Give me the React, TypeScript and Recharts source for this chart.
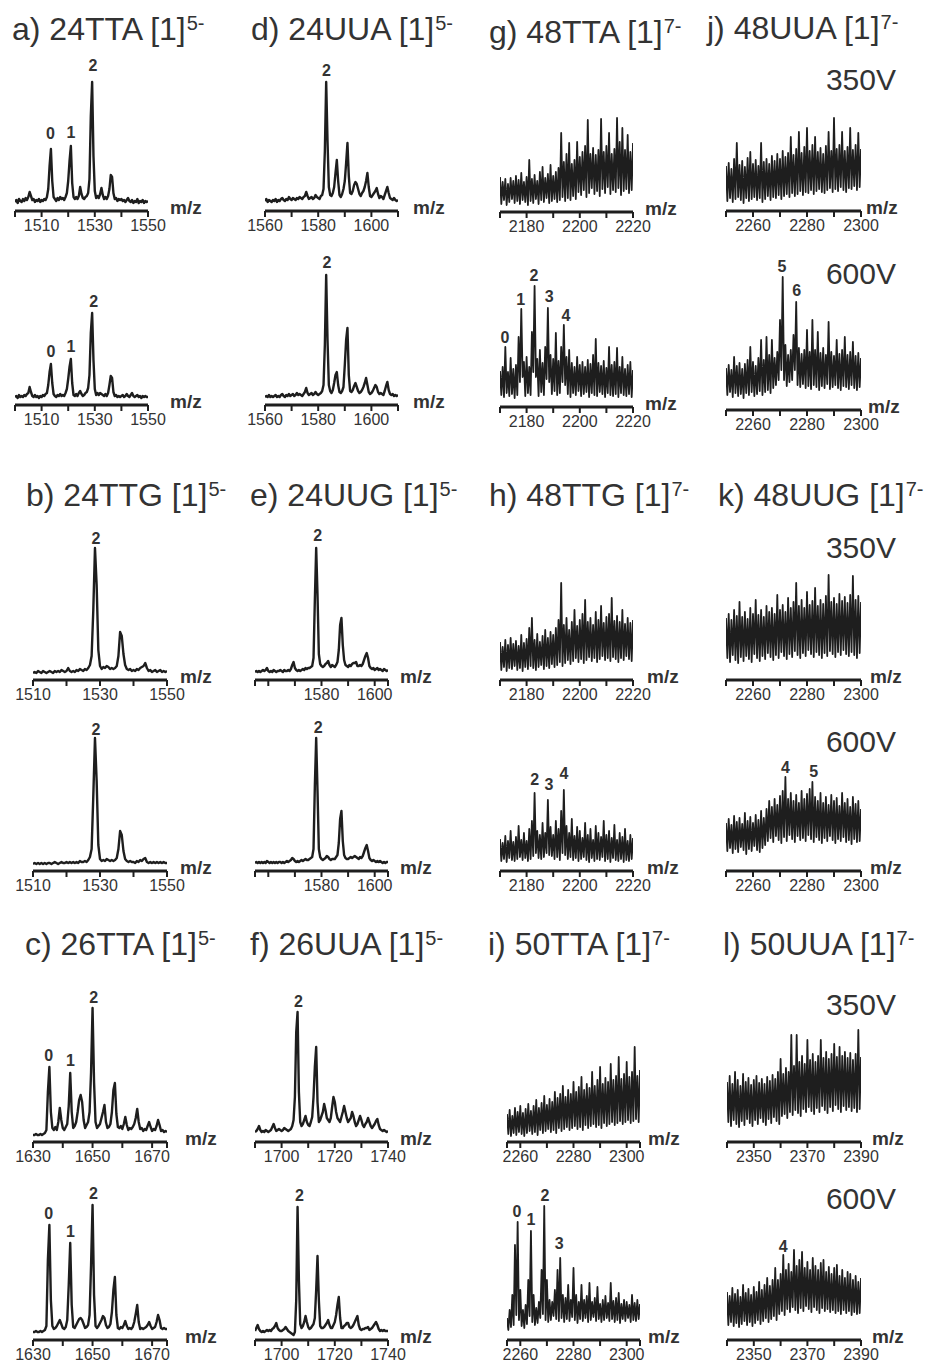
import React from "react";
import { LineChart, Line, XAxis, YAxis, ReferenceDot } from "recharts";

const FONT = '"Liberation Sans", Arial, Helvetica, sans-serif';
const INK = "#1e1e1e";
const TEXT = "#333";

// ---- clean spectra: intensity every 0.5 m/z (px above the axis line) ----
const a350 = [
  9, 11, 8, 12, 10, 9, 12, 10, 13, 11,
  14, 19, 15, 11, 12, 9, 11, 10, 12, 9,
  11, 10, 12, 11, 14, 22, 45, 62, 30, 14,
  12, 10, 13, 11, 14, 12, 13, 11, 14, 18,
  30, 50, 65, 28, 14, 12, 14, 12, 15, 24,
  17, 13, 12, 14, 15, 18, 32, 95, 129, 55,
  20, 13, 15, 13, 17, 23, 16, 12, 14, 12,
  15, 22, 36, 34, 18, 12, 13, 10, 12, 11,
  12, 10, 11, 9, 11, 13, 10, 9, 11, 8,
  10, 9, 12, 8, 10, 9, 11, 8, 10, 9,
  10,
];
const a600 = [
  8, 9, 7, 10, 8, 9, 8, 10, 9, 11,
  12, 18, 13, 9, 8, 10, 8, 9, 7, 9,
  8, 10, 9, 11, 12, 20, 33, 41, 22, 11,
  9, 8, 10, 9, 11, 9, 10, 9, 12, 16,
  26, 38, 46, 22, 10, 9, 11, 9, 12, 14,
  11, 9, 10, 12, 13, 17, 30, 72, 92, 45,
  16, 10, 12, 10, 12, 11, 10, 9, 11, 9,
  12, 20, 29, 27, 13, 9, 10, 8, 9, 8,
  9, 10, 8, 9, 11, 9, 8, 10, 12, 9,
  8, 9, 10, 8, 9, 7, 9, 8, 9, 8,
  8,
];
const b350 = [
  7, 8, 7, 9, 8, 7, 9, 8, 7, 8,
  9, 8, 7, 9, 8, 9, 8, 10, 9, 8,
  9, 12, 9, 8, 9, 8, 10, 9, 11, 10,
  9, 11, 10, 12, 15, 24, 70, 132, 95, 30,
  14, 11, 13, 12, 14, 13, 11, 12, 11, 12,
  14, 24, 48, 44, 26, 15, 11, 10, 11, 9,
  10, 9, 11, 10, 12, 13, 14, 17, 12, 9,
  10, 8, 9, 10, 8, 9, 10, 8, 9, 8,
  9,
];
const b600 = [
  7, 8, 7, 8, 7, 8, 7, 8, 7, 8,
  8, 7, 8, 9, 8, 7, 8, 9, 8, 8,
  9, 8, 9, 8, 9, 8, 9, 8, 10, 9,
  9, 10, 9, 11, 14, 22, 75, 133, 90, 26,
  12, 10, 11, 10, 12, 11, 10, 11, 10, 11,
  13, 22, 40, 36, 20, 12, 10, 9, 10, 9,
  9, 8, 10, 9, 11, 10, 12, 13, 9, 8,
  9, 8, 9, 8, 9, 8, 9, 8, 9, 8,
  8,
];
const c350 = [
  7, 7, 8, 7, 7, 8, 7, 8, 9, 12,
  50, 75, 30, 14, 12, 15, 12, 20, 34, 22,
  14, 12, 15, 18, 36, 69, 30, 14, 16, 20,
  30, 42, 47, 40, 22, 14, 17, 20, 30, 70,
  134, 60, 20, 14, 16, 18, 24, 30, 37, 20,
  14, 15, 18, 30, 52, 59, 28, 15, 14, 16,
  13, 18, 25, 17, 12, 14, 13, 15, 18, 24,
  33, 20, 13, 14, 11, 13, 12, 16, 20, 15,
  11, 13, 12, 16, 22, 17, 11, 12, 10, 11,
  10,
];
const c600 = [
  8, 8, 9, 8, 8, 9, 8, 9, 10, 14,
  80, 115, 40, 14, 11, 12, 14, 17, 20, 16,
  12, 11, 13, 20, 55, 97, 35, 13, 12, 15,
  18, 21, 22, 20, 16, 12, 13, 15, 25, 75,
  135, 45, 14, 12, 14, 17, 20, 24, 22, 15,
  12, 13, 16, 28, 50, 63, 25, 12, 11, 13,
  12, 15, 19, 14, 11, 12, 11, 13, 18, 26,
  35, 18, 11, 12, 11, 12, 13, 15, 18, 14,
  11, 12, 13, 18, 25, 20, 12, 11, 12, 11,
  11,
];
const d350 = [
  10, 12, 9, 11, 10, 9, 11, 10, 12, 9,
  11, 10, 12, 13, 11, 10, 12, 11, 14, 12,
  11, 13, 12, 11, 13, 12, 14, 13, 12, 14,
  15, 19, 15, 12, 13, 14, 12, 13, 16, 14,
  13, 12, 15, 16, 22, 60, 129, 70, 24, 16,
  15, 18, 24, 38, 51, 30, 16, 14, 17, 22,
  30, 48, 68, 35, 18, 17, 20, 26, 29, 27,
  22, 17, 15, 18, 20, 24, 30, 38, 24, 15,
  14, 16, 18, 20, 23, 17, 13, 15, 14, 12,
  16, 20, 24, 18, 13, 12, 11, 13, 11, 10,
  11,
];
const d600 = [
  8, 9, 8, 10, 8, 9, 8, 9, 10, 8,
  9, 8, 10, 11, 9, 8, 10, 9, 11, 9,
  10, 11, 9, 10, 12, 10, 11, 10, 9, 11,
  13, 17, 12, 10, 11, 12, 10, 11, 13, 11,
  10, 11, 12, 14, 20, 60, 130, 65, 20, 14,
  12, 15, 22, 30, 33, 20, 13, 12, 14, 18,
  40, 65, 77, 30, 14, 13, 15, 19, 22, 18,
  14, 12, 13, 15, 18, 22, 27, 20, 13, 11,
  12, 14, 17, 20, 18, 13, 11, 12, 11, 10,
  14, 19, 23, 15, 11, 10, 11, 9, 10, 9,
  10,
];
const e350 = [
  8, 9, 8, 9, 8, 9, 10, 9, 10, 12,
  9, 8, 9, 8, 10, 9, 8, 9, 9, 10,
  9, 8, 10, 9, 9, 10, 9, 11, 15, 18,
  12, 10, 9, 10, 9, 10, 11, 10, 12, 11,
  12, 12, 13, 14, 22, 80, 132, 85, 26, 16,
  14, 13, 14, 16, 17, 19, 15, 13, 15, 14,
  13, 15, 18, 30, 55, 62, 35, 20, 15, 14,
  13, 15, 14, 16, 17, 17, 18, 14, 14, 15,
  14, 16, 20, 24, 27, 22, 14, 12, 11, 12,
  10, 11, 12, 10, 11, 10, 9, 11, 10, 9,
  10,
];
const e600 = [
  8, 9, 8, 9, 8, 9, 8, 9, 8, 10,
  9, 8, 9, 8, 9, 8, 9, 8, 9, 9,
  8, 9, 8, 9, 10, 9, 10, 11, 13, 12,
  10, 9, 10, 9, 10, 11, 10, 11, 12, 11,
  11, 12, 13, 14, 22, 85, 133, 80, 22, 14,
  12, 11, 12, 13, 15, 14, 12, 11, 12, 12,
  12, 14, 16, 28, 52, 60, 30, 16, 13, 12,
  12, 13, 14, 13, 14, 15, 14, 13, 12, 14,
  13, 15, 19, 23, 26, 20, 13, 11, 10, 11,
  10, 9, 10, 9, 10, 9, 8, 9, 8, 9,
  9,
];
const f350 = [
  10, 11, 13, 16, 12, 10, 11, 10, 12, 11,
  10, 11, 12, 15, 18, 14, 11, 12, 13, 12,
  11, 12, 14, 13, 12, 11, 12, 13, 16, 22,
  45, 110, 130, 50, 20, 16, 18, 22, 26, 20,
  17, 16, 20, 25, 45, 75, 95, 40, 20, 22,
  26, 30, 38, 32, 24, 22, 20, 24, 35, 45,
  40, 30, 24, 22, 20, 25, 30, 36, 30, 24,
  20, 22, 24, 30, 26, 20, 16, 18, 22, 26,
  22, 17, 15, 18, 20, 24, 20, 16, 14, 16,
  18, 21, 23, 17, 13, 12, 11, 12, 11, 10,
  11,
];
const f600 = [
  9, 12, 15, 11, 9, 8, 9, 8, 9, 10,
  9, 10, 9, 11, 12, 14, 17, 12, 10, 9,
  9, 10, 11, 13, 11, 9, 8, 7, 6, 5,
  8, 40, 133, 60, 16, 12, 14, 18, 24, 18,
  13, 11, 12, 14, 16, 22, 50, 84, 40, 14,
  12, 12, 13, 15, 17, 20, 15, 12, 12, 15,
  18, 25, 35, 43, 22, 12, 12, 14, 15, 17,
  17, 13, 12, 13, 15, 18, 21, 24, 15, 11,
  10, 11, 11, 12, 12, 13, 10, 11, 12, 14,
  16, 18, 15, 11, 9, 10, 9, 10, 9, 9,
  9,
];

// ---- noisy spectra: tops at whole m/z, bottoms at half m/z ----
const g350Hi = [
  35, 30, 33, 28, 34, 31, 36, 32, 39, 30,
  35, 52, 33, 37, 31, 40, 45, 34, 38, 47,
  36, 40, 44, 79, 50, 58, 69, 48, 52, 70,
  55, 60, 66, 92, 58, 64, 57, 62, 93, 60,
  66, 79, 58, 63, 94, 70, 84, 62, 77, 60,
  69,
];
const g350Lo = [
  8, 12, 7, 10, 13, 9, 11, 8, 12, 10,
  7, 11, 9, 13, 8, 12, 10, 14, 9, 11,
  13, 10, 12, 15, 11, 14, 12, 16, 13, 20,
  17, 22, 15, 19, 24, 18, 21, 16, 23, 19,
  25, 18, 22, 20, 24, 17, 21, 23, 19, 22,
];
const g600Hi = [
  36, 40, 60, 35, 49, 38, 42, 70, 98, 45,
  50, 40, 75, 121, 48, 57, 44, 60, 99, 52,
  48, 74, 46, 60, 82, 50, 57, 44, 40, 50,
  42, 45, 40, 47, 43, 52, 68, 44, 41, 46,
  39, 60, 42, 45, 59, 40, 50, 38, 42, 45,
  37,
];
const g600Lo = [
  12, 10, 14, 11, 13, 9, 12, 25, 30, 11,
  14, 12, 35, 30, 11, 15, 12, 28, 25, 13,
  16, 12, 14, 25, 22, 13, 10, 14, 12, 16,
  11, 13, 15, 10, 14, 12, 11, 15, 13, 10,
  14, 12, 11, 13, 10, 14, 12, 11, 13, 10,
];
const h350Hi = [
  38, 33, 40, 35, 42, 36, 39, 34, 45, 37,
  41, 52, 62, 40, 46, 38, 44, 50, 42, 48,
  45, 52, 60, 97, 55, 62, 50, 58, 70, 54,
  60, 66, 80, 58, 62, 55, 68, 60, 74, 57,
  63, 66, 82, 59, 64, 58, 70, 56, 62, 57,
  60,
];
const h350Lo = [
  10, 13, 9, 12, 11, 14, 10, 12, 9, 13,
  11, 14, 12, 10, 13, 15, 11, 14, 12, 16,
  13, 15, 18, 14, 17, 20, 16, 19, 22, 18,
  21, 17, 20, 23, 19, 22, 18, 21, 24, 20,
  22, 19, 23, 21, 18, 22, 20, 24, 21, 19,
];
const h600Hi = [
  32, 28, 35, 30, 40, 29, 34, 45, 31, 38,
  30, 42, 50, 78, 40, 36, 48, 38, 71, 44,
  36, 50, 42, 60, 81, 45, 38, 52, 35, 44,
  40, 33, 48, 36, 42, 31, 45, 38, 34, 50,
  36, 40, 33, 46, 31, 38, 34, 42, 30, 36,
  33,
];
const h600Lo = [
  10, 12, 9, 13, 11, 10, 12, 14, 11, 13,
  10, 12, 15, 18, 13, 12, 14, 18, 16, 15,
  12, 14, 11, 18, 16, 12, 14, 11, 13, 10,
  12, 14, 11, 9, 13, 10, 12, 11, 14, 10,
  12, 9, 13, 11, 10, 12, 9, 11, 10, 12,
];
const i350Hi = [
  28, 32, 26, 34, 30, 36, 29, 33, 38, 31,
  36, 42, 34, 39, 46, 37, 43, 40, 50, 44,
  48, 56, 45, 52, 48, 60, 50, 55, 65, 52,
  58, 54, 70, 56, 62, 75, 58, 64, 60, 78,
  62, 66, 85, 63, 68, 80, 65, 70, 95, 66,
  72,
];
const i350Lo = [
  8, 6, 9, 7, 10, 8, 6, 9, 11, 8,
  10, 7, 12, 9, 11, 13, 10, 12, 9, 14,
  11, 13, 15, 12, 14, 16, 13, 15, 12, 17,
  14, 16, 18, 15, 17, 14, 19, 16, 18, 20,
  17, 19, 21, 18, 20, 22, 19, 21, 23, 20,
];
const i600Hi = [
  22, 30, 45, 95, 118, 50, 30, 35, 60, 109,
  45, 32, 38, 70, 134, 60, 40, 38, 50, 70,
  82, 45, 42, 55, 40, 72, 45, 38, 55, 40,
  44, 57, 38, 42, 53, 36, 40, 44, 37, 57,
  39, 42, 47, 36, 40, 38, 35, 45, 37, 40,
  36,
];
const i600Lo = [
  10, 13, 15, 25, 20, 14, 12, 16, 24, 18,
  15, 17, 22, 26, 20, 18, 20, 24, 21, 19,
  22, 18, 21, 19, 23, 20, 17, 21, 19, 22,
  18, 20, 23, 19, 21, 18, 20, 22, 19, 21,
  18, 20, 17, 21, 19, 22, 18, 20, 19, 21,
];
const j350Hi = [
  45, 48, 42, 52, 68, 46, 50, 44, 53, 59,
  47, 51, 45, 68, 49, 52, 47, 55, 50, 57,
  52, 60, 54, 58, 74, 56, 62, 79, 58, 64,
  83, 60, 66, 74, 59, 63, 57, 65, 79, 60,
  93, 62, 66, 79, 60, 64, 83, 61, 66, 78,
  62,
];
const j350Lo = [
  10, 13, 9, 12, 14, 11, 8, 13, 10, 12,
  14, 11, 13, 9, 12, 15, 11, 14, 13, 16,
  12, 15, 17, 14, 18, 15, 17, 20, 16, 19,
  18, 21, 17, 20, 22, 19, 18, 21, 23, 19,
  22, 20, 24, 21, 19, 23, 22, 25, 21, 24,
];
const j600Hi = [
  42, 45, 40, 53, 44, 47, 41, 46, 50, 63,
  48, 44, 52, 70, 50, 73, 55, 70, 52, 58,
  90, 133, 65, 55, 60, 75, 108, 62, 56, 60,
  80, 58, 90, 60, 78, 57, 62, 55, 88, 58,
  54, 70, 56, 60, 73, 55, 58, 68, 54, 57,
  52,
];
const j600Lo = [
  15, 18, 13, 17, 14, 16, 12, 17, 15, 18,
  14, 16, 19, 15, 18, 20, 17, 22, 25, 30,
  40, 30, 24, 28, 30, 40, 25, 23, 26, 22,
  24, 21, 25, 23, 20, 24, 22, 26, 21, 23,
  25, 22, 20, 24, 23, 21, 25, 22, 20, 23,
];
const k350Hi = [
  62, 66, 60, 70, 64, 78, 63, 68, 61, 72,
  66, 80, 65, 70, 63, 74, 68, 72, 66, 85,
  70, 75, 68, 82, 72, 78, 97, 74, 80, 72,
  88, 75, 79, 92, 74, 80, 76, 84, 105, 78,
  82, 76, 86, 79, 83, 77, 85, 104, 80, 84,
  78,
];
const k350Lo = [
  22, 18, 25, 20, 17, 23, 19, 24, 21, 18,
  26, 22, 19, 24, 21, 27, 23, 20, 25, 22,
  28, 24, 21, 26, 23, 29, 25, 22, 27, 24,
  30, 26, 23, 28, 25, 22, 27, 24, 29, 26,
  23, 28, 25, 30, 26, 24, 28, 25, 22, 27,
];
const k600Hi = [
  48, 52, 46, 55, 49, 53, 47, 58, 50, 54,
  48, 56, 51, 60, 53, 62, 70, 64, 72, 66,
  75, 80, 94, 72, 78, 70, 76, 68, 80, 72,
  77, 82, 89, 74, 70, 78, 68, 74, 66, 76,
  70, 73, 65, 78, 68, 72, 64, 74, 67, 70,
  62,
];
const k600Lo = [
  20, 23, 18, 22, 19, 24, 21, 17, 22, 20,
  25, 21, 19, 23, 26, 30, 33, 29, 35, 31,
  28, 34, 30, 36, 32, 29, 35, 31, 33, 30,
  36, 32, 29, 34, 31, 28, 33, 30, 35, 31,
  28, 32, 30, 34, 29, 31, 27, 32, 29, 30,
];
const l350Hi = [
  60, 66, 58, 70, 62, 56, 68, 60, 64, 57,
  62, 66, 59, 63, 58, 65, 61, 67, 63, 70,
  83, 68, 74, 70, 107, 76, 107, 80, 86, 78,
  102, 82, 88, 80, 86, 102, 84, 90, 83, 88,
  98, 85, 95, 86, 90, 84, 89, 82, 88, 112,
  85,
];
const l350Lo = [
  20, 16, 22, 18, 15, 21, 17, 23, 19, 16,
  22, 18, 24, 20, 17, 23, 19, 25, 21, 18,
  26, 28, 24, 30, 27, 32, 29, 26, 33, 30,
  35, 31, 28, 34, 30, 36, 32, 29, 35, 31,
  37, 33, 30, 36, 32, 35, 31, 34, 30, 33,
];
const l600Hi = [
  48, 44, 52, 46, 50, 43, 55, 47, 51, 45,
  53, 48, 58, 50, 55, 62, 54, 60, 72, 60,
  66, 85, 70, 76, 68, 90, 74, 80, 88, 72,
  78, 70, 82, 74, 70, 77, 80, 68, 73, 66,
  72, 75, 64, 70, 62, 68, 66, 60, 64, 58,
  62,
];
const l600Lo = [
  15, 18, 14, 17, 13, 16, 19, 15, 18, 14,
  17, 20, 16, 19, 22, 18, 21, 24, 20, 26,
  29, 25, 31, 28, 33, 30, 27, 32, 29, 34,
  31, 28, 33, 30, 27, 32, 29, 31, 28, 30,
  27, 29, 26, 30, 27, 29, 25, 28, 26, 27,
];

// ---- axes ----
const ticksA = [1500, 1510, 1520, 1530, 1540, 1550];
const ticksB = [1510, 1520, 1530, 1540, 1550];
const ticksC = [1630, 1640, 1650, 1660, 1670, 1675];
const ticksD = [1560, 1570, 1580, 1590, 1600, 1610];
const ticksE = [1555, 1560, 1570, 1580, 1590, 1600, 1605];
const ticksF = [1690, 1700, 1710, 1720, 1730, 1740];
const ticksG = [2170, 2180, 2190, 2200, 2210, 2220];
const ticksI = [2255, 2260, 2270, 2280, 2290, 2300, 2305];
const ticksJ = [2250, 2260, 2270, 2280, 2290, 2300];
const ticksL = [2340, 2350, 2360, 2370, 2380, 2390];

const titles = [
  { x: 12, y: 30, text: "a) 24TTA [1]", sup: "5-" },
  { x: 251, y: 30, text: "d) 24UUA [1]", sup: "5-" },
  { x: 489, y: 33, text: "g) 48TTA [1]", sup: "7-" },
  { x: 707, y: 29, text: "j) 48UUA [1]", sup: "7-" },
  { x: 26, y: 496, text: "b) 24TTG [1]", sup: "5-" },
  { x: 250, y: 496, text: "e) 24UUG [1]", sup: "5-" },
  { x: 489, y: 496, text: "h) 48TTG [1]", sup: "7-" },
  { x: 718, y: 496, text: "k) 48UUG [1]", sup: "7-" },
  { x: 25, y: 945, text: "c) 26TTA [1]", sup: "5-" },
  { x: 250, y: 945, text: "f) 26UUA [1]", sup: "5-" },
  { x: 488, y: 945, text: "i) 50TTA [1]", sup: "7-" },
  { x: 723, y: 945, text: "l) 50UUA [1]", sup: "7-" },
];
const voltages = [
  { y: 80, text: "350V" },
  { y: 274, text: "600V" },
  { y: 548, text: "350V" },
  { y: 742, text: "600V" },
  { y: 1005, text: "350V" },
  { y: 1199, text: "600V" },
];

type Pt = { mz: number; v: number };
const fine = (start: number, vals: number[]): Pt[] =>
  vals.map((v, i) => ({ mz: start + i * 0.5, v }));
const noisy = (start: number, hi: number[], lo: number[]): Pt[] => {
  const out: Pt[] = [];
  hi.forEach((h, i) => {
    out.push({ mz: start + i, v: h });
    if (i < lo.length) out.push({ mz: start + i + 0.5, v: lo[i] });
  });
  return out;
};

type Peak = { x: number; y: number; t: string };
type Spec = {
  id: string;
  x0: number;
  x1: number;
  axisY: number;
  domain: [number, number];
  ticks: number[];
  labels: number[];
  data: Pt[];
  thin?: boolean;
  peaks: Peak[];
  mzX: number;
};

const spectra: Spec[] = [
  // row 1
  { id: "a350", x0: 15, x1: 148, axisY: 211, domain: [1500, 1550], ticks: ticksA, labels: [1510, 1530, 1550], data: fine(1500, a350), mzX: 170,
    peaks: [{ x: 1513.3, y: 78, t: "0" }, { x: 1521, y: 79, t: "1" }, { x: 1529.3, y: 146, t: "2" }] },
  { id: "a600", x0: 15, x1: 148, axisY: 405, domain: [1500, 1550], ticks: ticksA, labels: [1510, 1530, 1550], data: fine(1500, a600), mzX: 170,
    peaks: [{ x: 1513.5, y: 54, t: "0" }, { x: 1521, y: 59, t: "1" }, { x: 1529.6, y: 104, t: "2" }] },
  { id: "d350", x0: 265, x1: 398, axisY: 211, domain: [1560, 1610], ticks: ticksD, labels: [1560, 1580, 1600], data: fine(1560, d350), mzX: 413,
    peaks: [{ x: 1583.1, y: 141, t: "2" }] },
  { id: "d600", x0: 265, x1: 398, axisY: 405, domain: [1560, 1610], ticks: ticksD, labels: [1560, 1580, 1600], data: fine(1560, d600), mzX: 413,
    peaks: [{ x: 1583.3, y: 143, t: "2" }] },
  { id: "g350", x0: 500, x1: 633, axisY: 212, domain: [2170, 2220], ticks: ticksG, labels: [2180, 2200, 2220], data: noisy(2170, g350Hi, g350Lo), thin: true, mzX: 645, peaks: [] },
  { id: "g600", x0: 500, x1: 633, axisY: 407, domain: [2170, 2220], ticks: ticksG, labels: [2180, 2200, 2220], data: noisy(2170, g600Hi, g600Lo), thin: true, mzX: 645,
    peaks: [{ x: 2171.9, y: 70, t: "0" }, { x: 2177.8, y: 108, t: "1" }, { x: 2182.8, y: 132, t: "2" }, { x: 2188.5, y: 111, t: "3" }, { x: 2194.8, y: 92, t: "4" }] },
  { id: "j350", x0: 726, x1: 861, axisY: 211, domain: [2250, 2300], ticks: ticksJ, labels: [2260, 2280, 2300], data: noisy(2250, j350Hi, j350Lo), thin: true, mzX: 866, peaks: [] },
  { id: "j600", x0: 726, x1: 861, axisY: 410, domain: [2250, 2300], ticks: ticksJ, labels: [2260, 2280, 2300], data: noisy(2250, j600Hi, j600Lo), thin: true, mzX: 868,
    peaks: [{ x: 2270.7, y: 144, t: "5" }, { x: 2276.2, y: 120, t: "6" }] },
  // row 2
  { id: "b350", x0: 33, x1: 167, axisY: 680, domain: [1510, 1550], ticks: ticksB, labels: [1510, 1530, 1550], data: fine(1510, b350), mzX: 180,
    peaks: [{ x: 1528.8, y: 142, t: "2" }] },
  { id: "b600", x0: 33, x1: 167, axisY: 871, domain: [1510, 1550], ticks: ticksB, labels: [1510, 1530, 1550], data: fine(1510, b600), mzX: 180,
    peaks: [{ x: 1528.8, y: 142, t: "2" }] },
  { id: "e350", x0: 255, x1: 388, axisY: 680, domain: [1555, 1605], ticks: ticksE, labels: [1580, 1600], data: fine(1555, e350), mzX: 400,
    peaks: [{ x: 1578.6, y: 145, t: "2" }] },
  { id: "e600", x0: 255, x1: 388, axisY: 871, domain: [1555, 1605], ticks: ticksE, labels: [1580, 1600], data: fine(1555, e600), mzX: 400,
    peaks: [{ x: 1578.8, y: 144, t: "2" }] },
  { id: "h350", x0: 500, x1: 633, axisY: 680, domain: [2170, 2220], ticks: ticksG, labels: [2180, 2200, 2220], data: noisy(2170, h350Hi, h350Lo), thin: true, mzX: 647, peaks: [] },
  { id: "h600", x0: 500, x1: 633, axisY: 871, domain: [2170, 2220], ticks: ticksG, labels: [2180, 2200, 2220], data: noisy(2170, h600Hi, h600Lo), thin: true, mzX: 647,
    peaks: [{ x: 2183, y: 92, t: "2" }, { x: 2188.4, y: 87, t: "3" }, { x: 2194, y: 98, t: "4" }] },
  { id: "k350", x0: 726, x1: 861, axisY: 680, domain: [2250, 2300], ticks: ticksJ, labels: [2260, 2280, 2300], data: noisy(2250, k350Hi, k350Lo), thin: true, mzX: 870, peaks: [] },
  { id: "k600", x0: 726, x1: 861, axisY: 871, domain: [2250, 2300], ticks: ticksJ, labels: [2260, 2280, 2300], data: noisy(2250, k600Hi, k600Lo), thin: true, mzX: 870,
    peaks: [{ x: 2272, y: 104, t: "4" }, { x: 2282.5, y: 100, t: "5" }] },
  // row 3
  { id: "c350", x0: 33, x1: 167, axisY: 1142, domain: [1630, 1675], ticks: ticksC, labels: [1630, 1650, 1670], data: fine(1630, c350), mzX: 185,
    peaks: [{ x: 1635.3, y: 87, t: "0" }, { x: 1642.6, y: 82, t: "1" }, { x: 1650.4, y: 145, t: "2" }] },
  { id: "c600", x0: 33, x1: 167, axisY: 1340, domain: [1630, 1675], ticks: ticksC, labels: [1630, 1650, 1670], data: fine(1630, c600), mzX: 185,
    peaks: [{ x: 1635.3, y: 127, t: "0" }, { x: 1642.6, y: 109, t: "1" }, { x: 1650.3, y: 147, t: "2" }] },
  { id: "f350", x0: 255, x1: 388, axisY: 1142, domain: [1690, 1740], ticks: ticksF, labels: [1700, 1720, 1740], data: fine(1690, f350), mzX: 400,
    peaks: [{ x: 1706.3, y: 141, t: "2" }] },
  { id: "f600", x0: 255, x1: 388, axisY: 1340, domain: [1690, 1740], ticks: ticksF, labels: [1700, 1720, 1740], data: fine(1690, f600), mzX: 400,
    peaks: [{ x: 1706.7, y: 145, t: "2" }] },
  { id: "i350", x0: 507, x1: 640, axisY: 1142, domain: [2255, 2305], ticks: ticksI, labels: [2260, 2280, 2300], data: noisy(2255, i350Hi, i350Lo), thin: true, mzX: 648, peaks: [] },
  { id: "i600", x0: 507, x1: 640, axisY: 1340, domain: [2255, 2305], ticks: ticksI, labels: [2260, 2280, 2300], data: noisy(2255, i600Hi, i600Lo), thin: true, mzX: 648,
    peaks: [{ x: 2258.7, y: 129, t: "0" }, { x: 2264, y: 121, t: "1" }, { x: 2269.3, y: 145, t: "2" }, { x: 2274.6, y: 97, t: "3" }] },
  { id: "l350", x0: 727, x1: 861, axisY: 1142, domain: [2340, 2390], ticks: ticksL, labels: [2350, 2370, 2390], data: noisy(2340, l350Hi, l350Lo), thin: true, mzX: 872, peaks: [] },
  { id: "l600", x0: 727, x1: 861, axisY: 1340, domain: [2340, 2390], ticks: ticksL, labels: [2350, 2370, 2390], data: noisy(2340, l600Hi, l600Lo), thin: true, mzX: 872,
    peaks: [{ x: 2361, y: 94, t: "4" }] },
];

const PLOT_H = 160;
const AXIS_H = 34;

function Spectrum({ s }: { s: Spec }) {
  return (
    <>
      <div style={{ position: "absolute", left: s.x0, top: s.axisY - PLOT_H }}>
        <LineChart
          width={s.x1 - s.x0}
          height={PLOT_H + AXIS_H}
          data={s.data}
          margin={{ top: 0, right: 0, bottom: 0, left: 0 }}
        >
          <XAxis
            dataKey="mz"
            type="number"
            domain={s.domain}
            ticks={s.ticks}
            interval={0}
            allowDataOverflow
            height={AXIS_H}
            tickSize={6}
            tickMargin={3}
            axisLine={{ stroke: INK, strokeWidth: 3 }}
            tickLine={{ stroke: INK, strokeWidth: 2 }}
            tick={{ fill: TEXT, fontSize: 16, fontFamily: FONT }}
            tickFormatter={(v: number) => (s.labels.includes(v) ? String(v) : "")}
          />
          <YAxis hide domain={[0, PLOT_H]} allowDataOverflow />
          <Line
            dataKey="v"
            type="linear"
            stroke={INK}
            strokeWidth={s.thin ? 1.8 : 2.4}
            strokeLinejoin="round"
            dot={false}
            isAnimationActive={false}
          />
          {s.peaks.map((p) => (
            <ReferenceDot
              key={p.t}
              x={p.x}
              y={p.y}
              r={1}
              fill="none"
              stroke="none"
              label={{ value: p.t, position: "center", fill: TEXT, fontSize: 16, fontWeight: 700, fontFamily: FONT }}
            />
          ))}
        </LineChart>
      </div>
      <div
        style={{
          position: "absolute",
          left: s.mzX,
          top: s.axisY - 14,
          fontFamily: FONT,
          fontWeight: 700,
          fontSize: 19,
          lineHeight: "22px",
          color: TEXT,
        }}
      >
        m/z
      </div>
    </>
  );
}

export default function App() {
  return (
    <div
      style={{
        position: "absolute",
        left: 0,
        top: 0,
        width: 928,
        height: 1362,
        background: "#fff",
        overflow: "hidden",
      }}
    >
      <style>{`.recharts-surface{overflow:visible}`}</style>
      {titles.map((t) => (
        <div
          key={t.text}
          style={{
            position: "absolute",
            left: t.x,
            top: t.y - 19,
            fontFamily: FONT,
            fontSize: 32,
            lineHeight: "37px",
            color: TEXT,
            whiteSpace: "nowrap",
          }}
        >
          {t.text}
          <span style={{ fontSize: 20, position: "relative", top: -10, marginLeft: 1 }}>{t.sup}</span>
        </div>
      ))}
      {voltages.map((v) => (
        <div
          key={v.y}
          style={{
            position: "absolute",
            right: 32,
            top: v.y - 17,
            fontFamily: FONT,
            fontSize: 30,
            lineHeight: "34px",
            color: TEXT,
            textAlign: "right",
          }}
        >
          {v.text}
        </div>
      ))}
      {spectra.map((s) => (
        <Spectrum key={s.id} s={s} />
      ))}
    </div>
  );
}
